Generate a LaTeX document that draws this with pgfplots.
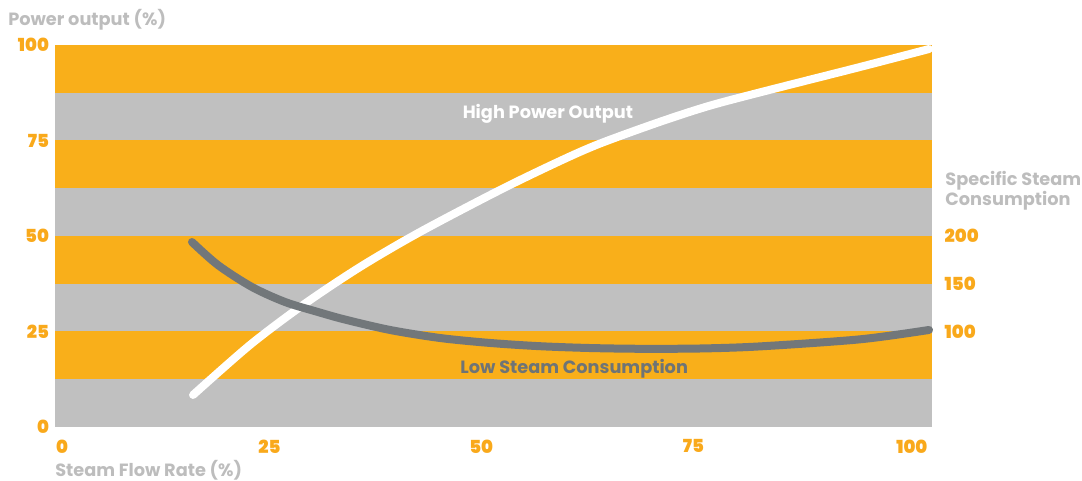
\documentclass[border=0pt]{standalone}
\usepackage{fontspec}
\setmainfont{Poppins}
\newfontfamily\heavy{Poppins Black}
\usepackage{pgfplots}
\pgfplotsset{compat=1.18}
\definecolor{band}{HTML}{F9AF1A}
\definecolor{bandgrey}{HTML}{C0C0C0}
\definecolor{tickor}{HTML}{F9A91B}
\definecolor{labgrey}{HTML}{BDBDBD}
\definecolor{curvegrey}{HTML}{72777A}
\definecolor{textgrey}{HTML}{6E7476}
\newcommand{\lab}{\fontsize{13.3}{14.5}\selectfont\bfseries}
\begin{document}
\begin{tikzpicture}
\pgfplotsset{
  base/.style={
    scale only axis, width=657.75pt, height=286.5pt,
    at={(0,0)}, anchor=south west,
    xmin=0, xmax=100,
    axis line style={draw=none},
    tick style={draw=none},
    clip=false,
    /pgf/number format/assume math mode=true,
    ticklabel style={font=\fontsize{13.5}{15}\heavy, text=tickor},
  }
}
\begin{axis}[base,
  ymin=0, ymax=100,
  axis background/.style={fill=bandgrey},
  xtick={0.8,24.46,48.6,72.8,97.7},
  xticklabels={0,25,50,75,100},
  xticklabel style={yshift=-6pt},
  ytick={0,25,50,75,100},
  yticklabel style={xshift=-1pt},
]
% stripes
\addplot[draw=none, fill=bandgrey] coordinates {(0,0) (100,0) (100,12.5) (0,12.5)} -- cycle;
\addplot[draw=none, fill=band] coordinates {(0,12.5) (100,12.5) (100,25) (0,25)} -- cycle;
\addplot[draw=none, fill=bandgrey] coordinates {(0,25) (100,25) (100,37.5) (0,37.5)} -- cycle;
\addplot[draw=none, fill=band] coordinates {(0,37.5) (100,37.5) (100,50) (0,50)} -- cycle;
\addplot[draw=none, fill=bandgrey] coordinates {(0,50) (100,50) (100,62.5) (0,62.5)} -- cycle;
\addplot[draw=none, fill=band] coordinates {(0,62.5) (100,62.5) (100,75) (0,75)} -- cycle;
\addplot[draw=none, fill=bandgrey] coordinates {(0,75) (100,75) (100,87.5) (0,87.5)} -- cycle;
\addplot[draw=none, fill=band] coordinates {(0,87.5) (100,87.5) (100,100) (0,100)} -- cycle;
% power output
\addplot[white, line width=6pt, line cap=round, smooth] coordinates {
  (15.74,8.38) (22.23,21.47) (28.28,31.94) (34.78,41.88) (41.62,51.05)
  (50.74,62.04) (57.58,69.63) (62.14,74.20) (68.99,79.90) (74.5,84.0) (80.39,87.60)
  (91.79,94.24) (99.66,98.95)
};
\node[text=white, font=\lab] at (axis cs:56.2,82.0) {High Power Output};
\node[text=textgrey, font=\lab] at (axis cs:59.2,15.2) {Low Steam Consumption};
\node[text=labgrey, anchor=west, inner sep=0pt, font=\lab] at (axis cs:-5.36,106.5) {Power output (\%)};
\node[text=labgrey, anchor=west, inner sep=0pt, font=\lab] at (axis cs:0,-11.3) {Steam Flow Rate (\%)};
\node[text=labgrey, anchor=west, inner sep=0pt, align=left, font=\lab] at (axis cs:101.5,61.8) {Specific Steam\\Consumption};
\end{axis}
\begin{axis}[base,
  ymin=0, ymax=400,
  axis x line=none,
  axis y line*=right,
  ytick={100,150,200},
  yticklabel style={anchor=west, xshift=6pt},
]
\addplot[curvegrey, line width=6pt, line cap=round, smooth] coordinates {
  (15.62,193.7) (18.59,169.5) (22.46,146.6) (26.23,130.9) (29.99,120.4)
  (33.07,112.5) (38.20,101.6) (43.90,93.2) (49.60,88.0) (55.30,84.6)
  (61.00,82.7) (66.70,81.9) (73.55,82.2) (80.39,84.4) (91.79,91.8) (99.66,101.6)
};
\end{axis}
\pgfresetboundingbox
\path[use as bounding box] (-41.25pt,-40.5pt) rectangle (770.25pt,320.25pt);
\end{tikzpicture}
\end{document}
